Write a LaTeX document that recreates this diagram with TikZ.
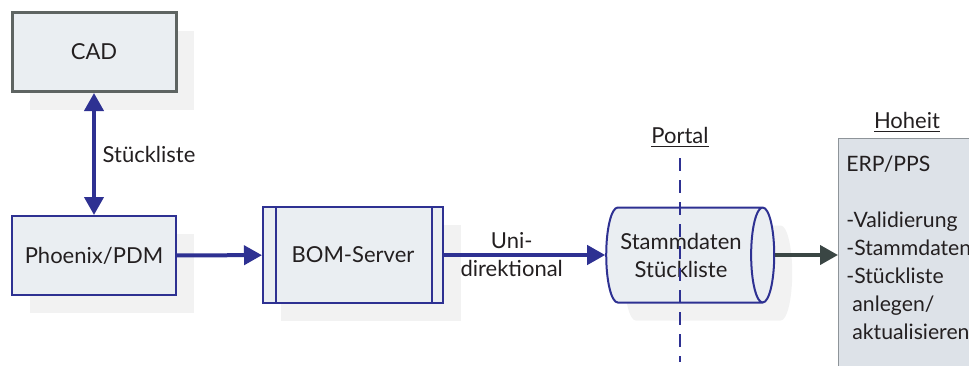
\documentclass[tikz,border=0pt]{standalone}
\usepackage{fontspec}
\setmainfont{Lato}
\usetikzlibrary{arrows.meta,shapes.geometric,shadows}

\definecolor{bomblue}{HTML}{2E3192}
\definecolor{cadgray}{HTML}{5E6462}
\definecolor{boxfill}{HTML}{EAEEF2}
\definecolor{shadowgray}{HTML}{F2F2F2}
\definecolor{erpfill}{HTML}{DDE2E8}
\definecolor{erpline}{HTML}{8E9499}
\definecolor{darkarrow}{HTML}{3A4644}
\definecolor{textgray}{HTML}{231F20}

\tikzset{
  box/.style={draw=bomblue, line width=1pt, fill=boxfill, text=textgray,
    minimum width=82pt, minimum height=39.5pt,
    general shadow={fill=shadowgray, shadow xshift=9pt, shadow yshift=-9pt}},
  flow/.style={draw=bomblue, line width=2pt,
    -{Triangle[length=9pt,width=9.5pt]}},
  erpbox/.style={draw=erpline, line width=0.5pt, fill=erpfill,
    anchor=north west, minimum width=90pt, minimum height=130pt},
  erptext/.style={text=textgray, align=left, anchor=north west,
    font=\fontsize{10.6}{14}\selectfont, inner xsep=4pt, inner ysep=8.5pt},
}

\begin{document}
\begin{tikzpicture}[x=0.5pt,y=-0.5pt,font=\fontsize{11}{14}\selectfont]
  \useasboundingbox (0,0) rectangle (969,365);

  \node[box, draw=cadgray, line width=1.5pt] (cad) at (94,52) {CAD};
  \node[box] (pdm) at (94,255.5) {Phoenix/PDM};
  \node[box, minimum width=90pt, minimum height=48pt] (bom) at (353,255) {BOM-Server};
  \draw[bomblue, line width=1pt] ([xshift=7pt]bom.north west) -- ([xshift=7pt]bom.south west);
  \draw[bomblue, line width=1pt] ([xshift=-6pt]bom.north east) -- ([xshift=-6pt]bom.south east);
  \node[box, cylinder, shape aspect=0.4, align=center, minimum width=47.5pt,
    minimum height=84pt] (stamm) at (681,255) {Stammdaten\\Stückliste};

  \node[text=textgray] (portal) at (680,137) {\underline{Portal}};
  \coordinate (portalend) at (680,362);
  \draw[bomblue, line width=1pt, dash pattern=on 6.5pt off 4.5pt, shorten <=2pt]
    (portal.south) -- (portalend);

  \node[text=textgray] (hoheit) at (907,122) {\underline{Hoheit}};
  \node[erpbox] (erp) at (838,138) {};
  \node[erptext] (erpinfo) at (erp.north west) {ERP/PPS\\ \\-Validierung\\-Stammdaten\\-Stückliste\\
    \hspace{3pt}anlegen/\\ \hspace{3pt}aktualisieren};

  \draw[flow, {Triangle[length=9pt,width=9.5pt]}-{Triangle[length=9pt,width=9.5pt]}]
    (cad.south) -- node[right, text=textgray] {Stückliste} (pdm.north);
  \draw[flow] (pdm) -- (bom);
  \draw[flow] (bom) -- node[pos=0.42, align=center, text=textgray] {Uni-\\direktional} (stamm);
  \draw[flow, draw=darkarrow, fill=darkarrow] (stamm.east) -- (stamm.east -| erp.west);
\end{tikzpicture}
\end{document}
